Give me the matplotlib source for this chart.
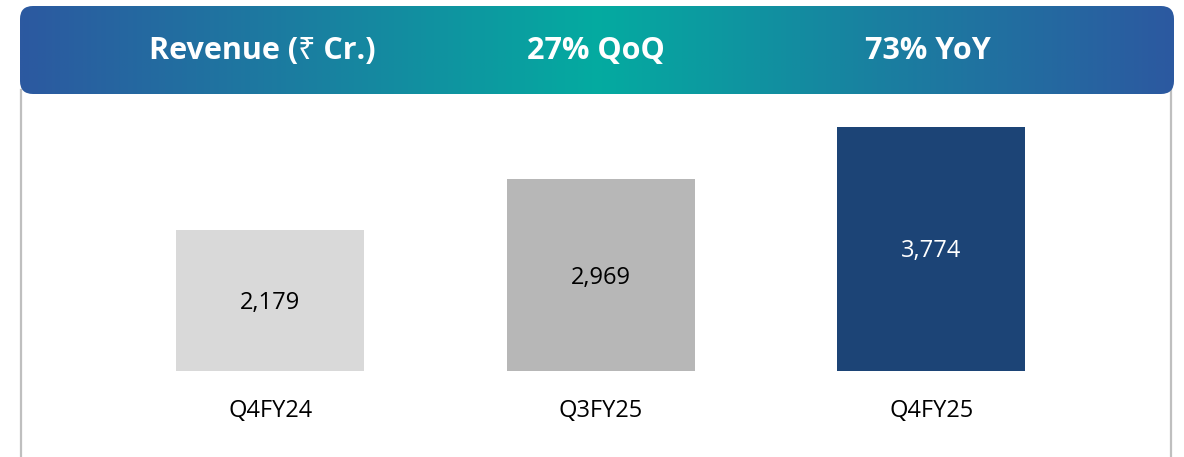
import numpy as np
import matplotlib
matplotlib.use("Agg")
import matplotlib.pyplot as plt
from matplotlib.patches import FancyBboxPatch
from matplotlib.colors import LinearSegmentedColormap

quarters = ["Q4FY24", "Q3FY25", "Q4FY25"]
revenue = [2179, 2969, 3774]
bar_colors = ["#d9d9d9", "#b7b7b7", "#1c4476"]
label_colors = ["#000000", "#000000", "#ffffff"]
header_texts = ["Revenue (₹ Cr.)", "27% QoQ", "73% YoY"]
header_x = [262, 596, 928]

plt.rcParams["font.family"] = ["Open Sans", "Noto Sans", "DejaVu Sans"]

W, H = 1184, 457
fig = plt.figure(figsize=(W / 100, H / 100), dpi=100)

# background layer in pixel coordinates
bg = fig.add_axes([0, 0, 1, 1])
bg.set_xlim(0, W)
bg.set_ylim(H, 0)
bg.axis("off")

# side borders of the panel
bg.plot([21, 21], [90, H], color="#bfbfbf", lw=1.6, zorder=1)
bg.plot([1171, 1171], [90, H], color="#bfbfbf", lw=1.6, zorder=1)

# header banner with gradient
x0, y0, x1, y1 = 20, 6, 1174, 94
box = FancyBboxPatch((x0, y0), x1 - x0, y1 - y0,
                     boxstyle="round,pad=0,rounding_size=13",
                     fc="none", ec="none", zorder=2)
bg.add_patch(box)
cmap = LinearSegmentedColormap.from_list(
    "hdr", ["#2c59a0", "#1a7fa0", "#04aba0", "#1a7fa0", "#2c59a0"])
grad = np.linspace(0, 1, 512).reshape(1, -1)
img = bg.imshow(grad, cmap=cmap, extent=(x0, x1, y1, y0), aspect="auto", zorder=2)
img.set_clip_path(box)
bg.set_xlim(0, W)
bg.set_ylim(H, 0)

for tx, t in zip(header_x, header_texts):
    bg.text(tx, 51, t, color="white", fontsize=22, fontweight="bold",
            ha="center", va="center", zorder=3)

# bar chart
base_px, scale = 371, 0.0647
top_px = 94
left_px, width_px = 105, 991.5
ax = fig.add_axes([left_px / W, (H - base_px) / H, width_px / W, (base_px - top_px) / H])
ax.patch.set_alpha(0)
x = np.arange(len(quarters))
ax.bar(x, revenue, width=0.568, color=bar_colors)
ax.set_xlim(-0.5, 2.5)
ax.set_ylim(0, (base_px - top_px) / scale)
for xi, v, c in zip(x, revenue, label_colors):
    ax.text(xi, v / 2 - 40, f"{v:,}", ha="center", va="center", fontsize=17, color=c)
ax.set_xticks(x)
ax.set_xticklabels(quarters, fontsize=17)
ax.tick_params(axis="x", length=0, pad=20)
ax.set_yticks([])
for s in ax.spines.values():
    s.set_visible(False)

fig.savefig("out.png", dpi=100)
